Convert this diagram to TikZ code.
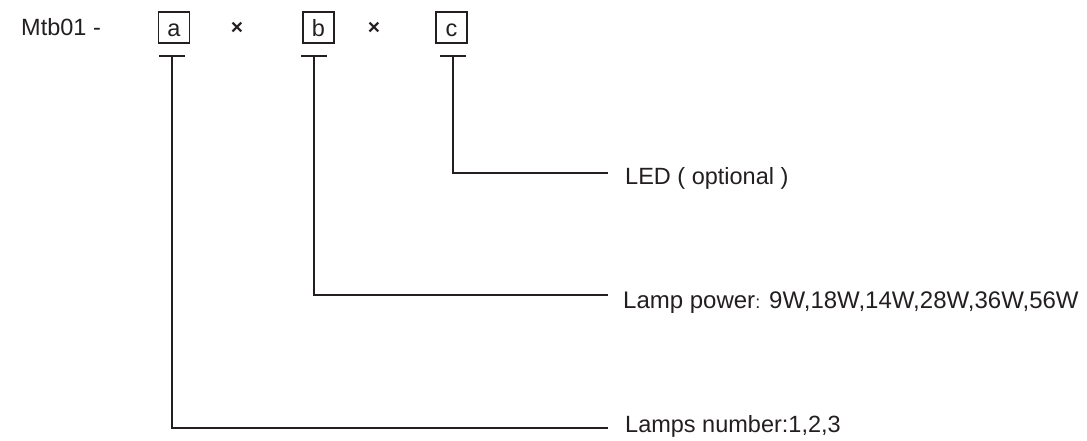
\documentclass[tikz,border=0pt]{standalone}
\usepackage{fontspec}
\setmainfont{Liberation Sans}
\definecolor{ink}{HTML}{231F20}
\tikzset{
    code box/.style={draw=ink, line width=1.1pt, minimum width=31pt, minimum height=31pt, inner sep=0pt, text height=22pt, text depth=5pt, text=ink, font=\fontsize{23.5}{28}\selectfont},
    code text/.style={inner sep=0pt, anchor=base west, text=ink, font=\fontsize{23.5}{28}\selectfont},
    times sign/.style={inner sep=0pt, text=ink, font=\bfseries\fontsize{21}{24}\selectfont},
    lead line/.style={draw=ink, line width=1.3pt},
}

\begin{document}
\begin{tikzpicture}[x=1pt, y=-1pt]
    \useasboundingbox (0,0) rectangle (1087,440);

    % Globals
    \pgfmathsetmacro{\tBarY}{56}
    \pgfmathsetmacro{\tBarHalf}{13}
    \pgfmathsetmacro{\lineEndX}{608}
    \pgfmathsetmacro{\textX}{625}

    % Code line
    \node[code text] (MTB) at (21,35) {Mtb01 -};
    \node[code box] (BOX_A) at (174,27.5) {a};
    \node[times sign] (TIMES_AB) at (237,28.5) {×};
    \node[code box] (BOX_B) at (318.5,27.5) {b};
    \node[times sign] (TIMES_BC) at (374,28.5) {×};
    \node[code box] (BOX_C) at (451.5,27.5) {c};

    % Leader a
    \coordinate (T_A) at (172,\tBarY);
    \draw[lead line] ([xshift=-\tBarHalf pt]T_A) -- ([xshift=\tBarHalf pt]T_A);
    \coordinate (END_A) at (\lineEndX,428);
    \draw[lead line] (T_A) |- (END_A);
    \node[code text] (LBL_A) at (\textX,432) {Lamps number:1,2,3};

    % Leader b
    \coordinate (T_B) at (314,\tBarY);
    \draw[lead line] ([xshift=-\tBarHalf pt]T_B) -- ([xshift=\tBarHalf pt]T_B);
    \coordinate (END_B) at (\lineEndX,295);
    \draw[lead line] (T_B) |- (END_B);
    \node[code text, font=\fontsize{24}{28}\selectfont] (LBL_B) at (\textX - 2,308) {Lamp power{\fontsize{18}{20}\selectfont:} 9W,18W,14W,28W,36W,56W};

    % Leader c
    \coordinate (T_C) at (453,\tBarY);
    \draw[lead line] ([xshift=-\tBarHalf pt]T_C) -- ([xshift=\tBarHalf pt]T_C);
    \coordinate (END_C) at (\lineEndX,173);
    \draw[lead line] (T_C) |- (END_C);
    \node[code text] (LBL_C) at (\textX,184) {LED ( optional )};

\end{tikzpicture}
\end{document}
